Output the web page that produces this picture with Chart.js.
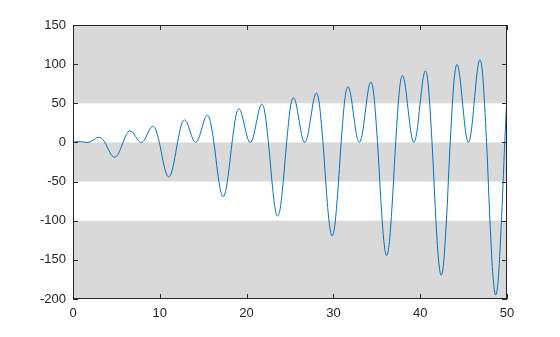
<!DOCTYPE html>
<html>
<head>
<meta charset="utf-8">
<script src="https://cdn.jsdelivr.net/npm/chart.js@4.4.0/dist/chart.umd.min.js"></script>
<style>
  html, body { margin: 0; padding: 0; background: #fff; }
</style>
</head>
<body>
<canvas id="chart" width="560" height="337"></canvas>
<script>
// curve points
const xValues = [
  0, 0.25, 0.5, 1.0, 1.3,
  1.571, 1.9, 2.3, 2.6, 2.889, 3.2, 3.665, 4.1, 4.4, 4.712, 5.0, 5.35, 5.76, 6.2, 6.536, 6.85, 7.2, 7.55,
  7.854, 8.183, 8.583, 8.883, 9.172, 9.483, 9.948, 10.383, 10.683, 10.995, 11.283, 11.633, 12.043, 12.483, 12.819, 13.133, 13.483, 13.833,
  14.137, 14.466, 14.866, 15.166, 15.455, 15.766, 16.231, 16.666, 16.966, 17.278, 17.566, 17.916, 18.326, 18.766, 19.102, 19.416, 19.766, 20.116,
  20.421, 20.75, 21.15, 21.45, 21.739, 22.05, 22.515, 22.95, 23.25, 23.562, 23.85, 24.2, 24.61, 25.05, 25.386, 25.7, 26.05, 26.4,
  26.704, 27.033, 27.433, 27.733, 28.022, 28.333, 28.798, 29.233, 29.533, 29.845, 30.133, 30.483, 30.893, 31.333, 31.669, 31.983, 32.333, 32.683,
  32.987, 33.316, 33.716, 34.016, 34.305, 34.616, 35.081, 35.516, 35.816, 36.128, 36.416, 36.766, 37.176, 37.616, 37.952, 38.266, 38.616, 38.966,
  39.27, 39.599, 39.999, 40.299, 40.588, 40.899, 41.364, 41.799, 42.099, 42.411, 42.699, 43.049, 43.459, 43.899, 44.235, 44.549, 44.899, 45.249,
  45.553, 45.882, 46.282, 46.582, 46.871, 47.182, 47.647, 48.082, 48.382, 48.694, 48.982, 49.332, 49.742, 50
];
const yValues = [
  0, 0.56, 1.02, 0.85, 0.28,
  0, 0.59, 2.91, 5.12, 6.5, 5.98, 0, -9.49, -15.51, -18.85, -17.98, -11.63, 0, 11.2, 14.71, 13.15, 7.68, 2.01,
  0, 2.54, 10.87, 17.48, 20.64, 17.73, 0, -24.04, -37.66, -43.98, -40.57, -25.29, 0, 22.54, 28.84, 25.22, 14.37, 3.68,
  0, 4.5, 18.84, 29.85, 34.77, 29.48, 0, -38.58, -59.81, -69.11, -63.17, -38.95, 0, 33.89, 42.98, 37.28, 21.07, 5.35,
  0, 6.45, 26.8, 42.21, 48.91, 41.23, 0, -53.13, -81.96, -94.25, -85.76, -52.61, 0, 45.24, 57.12, 49.34, 27.77, 7.02,
  0, 8.41, 34.76, 54.58, 63.05, 52.98, 0, -67.67, -104.1, -119.38, -108.36, -66.27, 0, 56.59, 71.26, 61.41, 34.47, 8.69,
  0, 10.36, 42.72, 66.94, 77.19, 64.73, 0, -82.22, -126.25, -144.51, -130.95, -79.93, 0, 67.93, 85.39, 73.47, 41.17, 10.36,
  0, 12.32, 50.68, 79.31, 91.32, 76.48, 0, -96.76, -148.4, -169.64, -153.55, -93.59, 0, 79.28, 99.53, 85.53, 47.86, 12.04,
  0, 14.27, 58.64, 91.67, 105.46, 88.23, 0, -111.31, -170.55, -194.78, -176.14, -107.25, 0, 60.05
];
// shaded horizontal bands [from, to]
const bands = [[50, 150], [-50, 0], [-200, -100]];
const xRange = [0, 50];
const yRange = [-200, 150];

const points = xValues.map((x, i) => ({ x: x, y: yValues[i] }));

const frameColor = '#262626';

const bandsAndFrame = {
  id: 'bandsAndFrame',
  beforeDraw(chart) {
    const { ctx, chartArea, scales } = chart;
    ctx.save();
    ctx.fillStyle = '#d9d9d9';
    bands.forEach(([a, b]) => {
      const y1 = scales.y.getPixelForValue(b);
      const y2 = scales.y.getPixelForValue(a);
      ctx.fillRect(chartArea.left, y1, chartArea.right - chartArea.left, y2 - y1);
    });
    ctx.restore();
  },
  afterDraw(chart) {
    const { ctx, chartArea, scales } = chart;
    const { left, right, top, bottom } = chartArea;
    ctx.save();
    ctx.strokeStyle = frameColor;
    ctx.lineWidth = 1;
    ctx.strokeRect(left + 0.5, top + 0.5, right - left - 1, bottom - top - 1);
    ctx.beginPath();
    scales.y.ticks.forEach(t => {
      const py = Math.round(scales.y.getPixelForValue(t.value)) + 0.5;
      ctx.moveTo(left, py); ctx.lineTo(left + 5, py);
      ctx.moveTo(right, py); ctx.lineTo(right - 5, py);
    });
    scales.x.ticks.forEach(t => {
      const px = Math.round(scales.x.getPixelForValue(t.value)) + 0.5;
      ctx.moveTo(px, bottom); ctx.lineTo(px, bottom - 5);
      ctx.moveTo(px, top); ctx.lineTo(px, top + 5);
    });
    ctx.stroke();
    ctx.restore();
  }
};

new Chart(document.getElementById('chart'), {
  type: 'line',
  data: {
    datasets: [{
      data: points,
      borderColor: '#0072bd',
      borderWidth: 1,
      pointRadius: 0,
      fill: false,
      cubicInterpolationMode: 'monotone'
    }]
  },
  options: {
    responsive: false,
    animation: false,
    layout: { padding: { left: 0, top: 25, right: 53, bottom: 0 } },
    plugins: { legend: { display: false }, tooltip: { enabled: false } },
    scales: {
      x: {
        type: 'linear',
        min: xRange[0],
        max: xRange[1],
        grid: { display: false, drawTicks: false },
        border: { display: false },
        ticks: { stepSize: 10, color: frameColor, padding: 7, font: { family: 'Liberation Sans', size: 13 } },
        afterFit(scale) { scale.height = 38; }
      },
      y: {
        min: yRange[0],
        max: yRange[1],
        grid: { display: false, drawTicks: false },
        border: { display: false },
        ticks: { stepSize: 50, color: frameColor, padding: 7, font: { family: 'Liberation Sans', size: 13 } },
        afterFit(scale) { scale.width = 73; }
      }
    }
  },
  plugins: [bandsAndFrame]
});
</script>
</body>
</html>
